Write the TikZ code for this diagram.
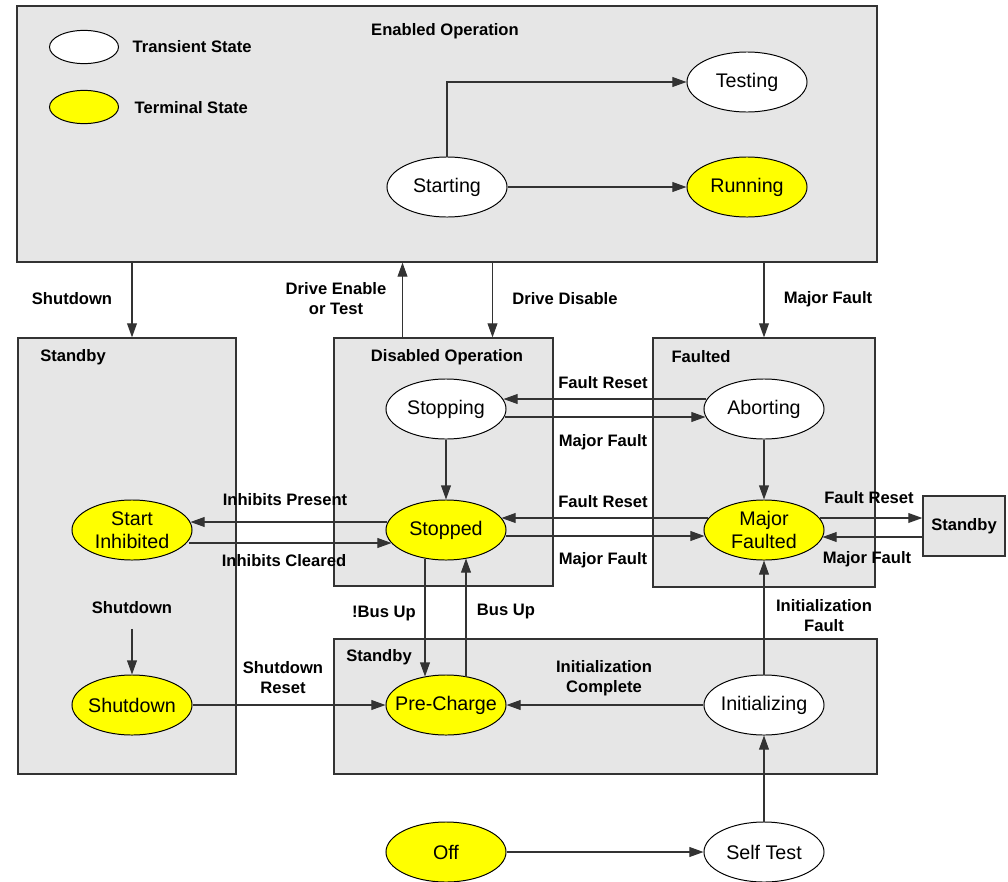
\documentclass[tikz,border=0pt]{standalone}
\usepackage{fontspec}
\setmainfont{Liberation Sans}
\usetikzlibrary{arrows.meta,calc,fit,shapes.geometric}
\definecolor{regionfill}{HTML}{E6E6E6}
\definecolor{edgegray}{HTML}{333333}
\definecolor{termfill}{HTML}{FFFF00}
\begin{document}
\begin{tikzpicture}[x=0.025cm,y=-0.025cm,
  region/.style={draw=edgegray, line width=0.9pt, fill=regionfill, inner sep=0pt},
  state/.style={ellipse, draw=black, line width=0.7pt, fill=white,
    minimum width=3cm, minimum height=1.5cm, inner sep=0pt},
  terminal/.style={state, fill=termfill},
  statetext/.style={font=\fontsize{14}{16.5}\selectfont, align=center, inner sep=0pt},
  tag/.style={font=\bfseries\fontsize{11.8}{14.2}\selectfont, align=center, inner sep=1pt},
  arr/.style={draw=edgegray, line width=0.8pt, -{Triangle[length=10pt,width=7pt]}},
]
\fill[white] (0,0) rectangle (1008,882);
\useasboundingbox (0,0) rectangle (1008,882);

% mode regions
\node[region, fit={(17,6) (877,262)}] (enabled) {};
\node[region, fit={(18,338) (236,774)}] (stbyleft) {};
\node[region, fit={(334,338) (553,586)}] (disabled) {};
\node[region, fit={(653,338) (875,587)}] (faulted) {};
\node[region, fit={(334,639) (877,774)}] (stbylow) {};
\node[region, tag, minimum width=2.05cm, minimum height=1.5cm] (stbyright) at (964,526) {Standby};

% region titles
\node[tag] (tenabled) at (445,31) {Enabled Operation};
\node[tag] (tstbyleft) at (73,357) {Standby};
\node[tag] (tdisabled) at (447,357) {Disabled Operation};
\node[tag] (tfaulted) at (701,357) {Faulted};
\node[tag] (tstbylow) at (379,657) {Standby};

% legend
\node[state, minimum width=1.725cm, minimum height=0.83cm] (legtrans) at (84,47) {};
\node[terminal, minimum width=1.725cm, minimum height=0.83cm] (legterm) at (84,107) {};
\node[tag, anchor=west] (legtranstxt) at (131,47) {Transient State};
\node[tag, anchor=west] (legtermtxt) at (133,108) {Terminal State};

% states
\node[state, label={[statetext]center:Starting}] (starting) at (447,187) {};
\node[state, label={[statetext]center:Testing}] (testing) at (747,82) {};
\node[terminal, label={[statetext]center:Running}] (running) at (747,187) {};
\node[state, label={[statetext]center:Stopping}] (stopping) at (446,409) {};
\node[terminal, label={[statetext]center:Stopped}] (stopped) at (446,530) {};
\node[terminal, label={[statetext]center:{Start\\Inhibited}}] (inhibited) at (132,530) {};
\node[state, label={[statetext]center:Aborting}] (aborting) at (764,409) {};
\node[terminal, label={[statetext]center:{Major\\Faulted}}] (majorf) at (764,530) {};
\node[terminal, label={[statetext]center:Shutdown}] (shutdown) at (132,705) {};
\node[terminal, label={[statetext]center:Pre-Charge}] (precharge) at (446,705) {};
\node[state, label={[statetext]center:Initializing}] (initializing) at (764,705) {};
\node[terminal, label={[statetext]center:Off}] (off) at (446,852) {};
\node[state, label={[statetext]center:Self Test}] (selftest) at (764,852) {};

% transitions inside Enabled Operation
\draw[arr] (starting.north) |- (testing.west);
\draw[arr] (starting.east) -- (running.west);

% transitions between regions
\coordinate (de) at ($(disabled.north)+(-41,0)$);
\coordinate (dd) at ($(disabled.north)+(49,0)$);
\draw[arr] (enabled.south -| inhibited) -- (stbyleft.north -| inhibited);
\draw[arr] (de) -- (de |- enabled.south);
\draw[arr] (enabled.south -| dd) -- (dd);
\draw[arr] (enabled.south -| faulted.north) -- (faulted.north);

\node[tag] (lshut1) at (72,299) {Shutdown};
\node[tag] (ldrive) at (336,299) {Drive Enable\\or Test};
\node[tag] (ldisable) at (565,299) {Drive Disable};
\node[tag] (lmaj1) at (828,299) {Major Fault};

% Disabled / Faulted
\draw[arr] (stopping.south) -- (stopped.north);
\draw[arr] (aborting.south) -- (majorf.north);
\draw[arr] ($(aborting.west)+(3,-10)$) -- ($(stopping.east)+(-3,-10)$);
\draw[arr] ($(stopping.east)+(-2,8)$) -- ($(aborting.west)+(2,8)$);
\draw[arr] ($(majorf.west)+(5,-12)$) -- ($(stopped.east)+(-5,-12)$);
\draw[arr] ($(stopped.east)+(-1,6)$) -- ($(majorf.west)+(1,6)$);
\node[tag] (lfr1) at (603,383) {Fault Reset};
\node[tag] (lmf2) at (603,442) {Major Fault};
\node[tag] (lfr2) at (603,502) {Fault Reset};
\node[tag] (lmf3) at (603,560) {Major Fault};

% external Standby
\draw[arr] ($(majorf.east)+(-5,-12)$) -- ($(stbyright.west)+(0,-8)$);
\draw[arr] ($(stbyright.west)+(0,11)$) -- ($(majorf.east)+(-2,7)$);
\node[tag] (lfr3) at (869,498) {Fault Reset};
\node[tag] (lmf4) at (867,559) {Major Fault};

% inhibits
\draw[arr] ($(stopped.west)+(2,-8)$) -- ($(inhibited.east)+(-2,-8)$);
\draw[arr] ($(inhibited.east)+(-4,13)$) -- ($(stopped.west)+(6,13)$);
\node[tag] (linhp) at (285,500) {Inhibits Present};
\node[tag] (linhc) at (284,561) {Inhibits Cleared};

% shutdown path
\node[tag] (lshut2) at (132,608) {Shutdown};
\draw[arr] ($(lshut2.south)+(0,13)$) -- (shutdown.north);
\draw[arr] (shutdown.east) -- (precharge.west);
\node[tag] (lshutreset) at (283,678) {Shutdown\\Reset};

% bus
\draw[arr] ($(stopped.south)+(-21,-2)$) -- ($(precharge.north)+(-21,2)$);
\draw[arr] ($(precharge.north)+(20,2)$) -- ($(stopped.south)+(20,-2)$);
\node[tag] (lnobus) at (384,614) {!Bus Up};
\node[tag] (lbus) at (506,612) {Bus Up};

% initialization
\draw[arr] (initializing.north) -- (majorf.south);
\draw[arr] (initializing.west) -- (precharge.east);
\node[tag] (linitf) at (824,616) {Initialization\\Fault};
\node[tag] (linitc) at (604,678) {Initialization\\Complete};

% power-up
\draw[arr] (off.east) -- (selftest.west);
\draw[arr] (selftest.north) -- (initializing.south);
\end{tikzpicture}
\end{document}
